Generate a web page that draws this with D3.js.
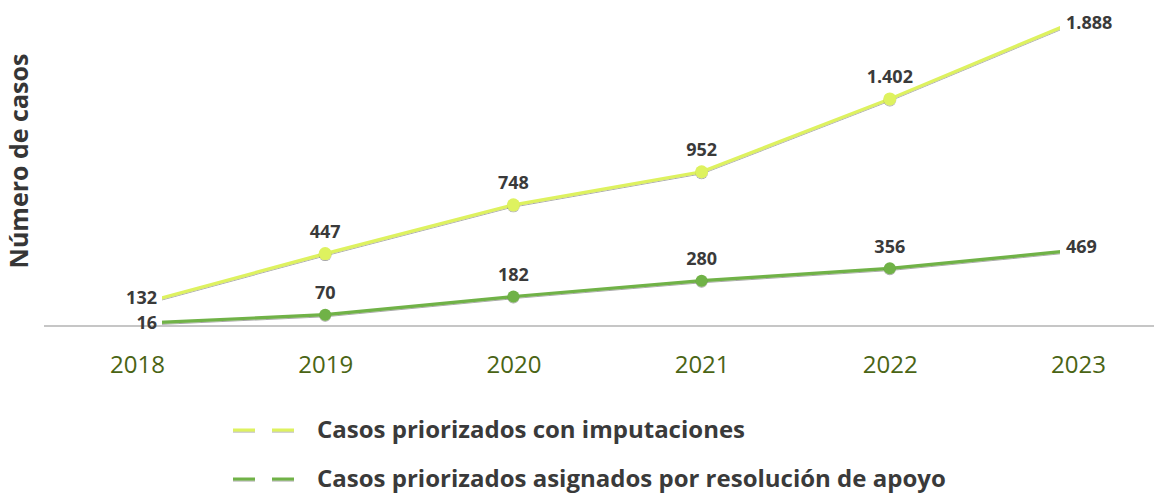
<!DOCTYPE html>
<html lang="es">
<head>
<meta charset="utf-8">
<script src="https://cdn.jsdelivr.net/npm/d3@7"></script>
<style>
  html, body { margin: 0; padding: 0; background: #ffffff; }
  svg { display: block; }
  text { font-family: "Open Sans", Lato, "DejaVu Sans", sans-serif; }
</style>
</head>
<body>
<svg id="chart" width="1154" height="493"></svg>
<script>
// Años y series
const years = ["2018", "2019", "2020", "2021", "2022", "2023"];
const imputaciones = [132, 447, 748, 952, 1402, 1888];
const resolucionApoyo = [16, 70, 182, 280, 356, 469];
const seriesNames = [
  "Casos priorizados con imputaciones",
  "Casos priorizados asignados por resolución de apoyo"
];
const seriesColors = ["#def25e", "#70b246"];
const yAxisTitle = "Número de casos";
const yMax = 2000;

const fmt = v => d3.format(",")(v).replace(/,/g, ".");

const svg = d3.select("#chart");
const W = 1154, H = 493;

const x = d3.scalePoint().domain(years).range([137, 1078]);
const y = d3.scaleLinear().domain([0, yMax]).range([326, 2]);

// Drawn span of the lines (trimmed at the outer years)
const startInset = 25, endInset = 18;
const xStart = x(years[0]) + startInset;
const xEnd = x(years[years.length - 1]) - endInset;

const defs = svg.append("defs");
defs.append("clipPath").attr("id", "lineClip")
  .append("rect")
  .attr("x", xStart).attr("y", 0)
  .attr("width", xEnd - xStart).attr("height", 340);
const shadow = defs.append("filter").attr("id", "soft")
  .attr("filterUnits", "userSpaceOnUse")
  .attr("x", 0).attr("y", 0).attr("width", W).attr("height", H);
shadow.append("feDropShadow")
  .attr("dx", 0).attr("dy", 1).attr("stdDeviation", 0.6)
  .attr("flood-color", "#000").attr("flood-opacity", 0.35);

// Baseline
svg.append("line")
  .attr("x1", 44).attr("x2", W)
  .attr("y1", y(0)).attr("y2", y(0))
  .attr("stroke", "#c6c6c6").attr("stroke-width", 2);

// Category labels
const xAxis = d3.axisBottom(x).tickSize(0).tickPadding(0);
const gx = svg.append("g").attr("transform", `translate(0, ${y(0) + 39})`).call(xAxis);
gx.select(".domain").remove();
gx.selectAll("text")
  .attr("fill", "#4a6414")
  .style("font-family", "'Open Sans', Lato, sans-serif")
  .style("font-size", "24px")
  .attr("dy", "0.35em")
  .attr("y", 0);

// Y-axis title
svg.append("text")
  .attr("transform", `translate(28, ${161}) rotate(-90)`)
  .attr("text-anchor", "middle")
  .attr("fill", "#363636")
  .style("font-size", "25px")
  .style("font-weight", 700)
  .text(yAxisTitle);

const series = [
  { name: seriesNames[0], values: imputaciones, color: seriesColors[0], r: 6.5 },
  { name: seriesNames[1], values: resolucionApoyo, color: seriesColors[1], r: 6 }
];

const line = d3.line()
  .x((d, i) => x(years[i]))
  .y(d => y(d));

// y of a series at horizontal position px (linear between neighbouring years)
function yAt(values, px) {
  const step = x.step();
  const i = Math.min(values.length - 2, Math.max(0, Math.floor((px - x(years[0])) / step)));
  const t = (px - x(years[i])) / step;
  return y(values[i]) + (y(values[i + 1]) - y(values[i])) * t;
}

const labelStyle = sel => sel
  .attr("fill", "#3a3a3a")
  .style("font-size", "18px")
  .style("font-weight", 700);

series.forEach(s => {
  const g = svg.append("g");
  g.append("path")
    .datum(s.values)
    .attr("d", line)
    .attr("fill", "none")
    .attr("stroke", s.color)
    .attr("stroke-width", 3.2)
    .attr("stroke-linejoin", "round")
    .attr("clip-path", "url(#lineClip)")
    .attr("filter", "url(#soft)");

  const inner = s.values.slice(1, -1).map((v, k) => ({ v, year: years[k + 1] }));
  g.selectAll("circle")
    .data(inner)
    .join("circle")
    .attr("cx", d => x(d.year))
    .attr("cy", d => y(d.v))
    .attr("r", s.r)
    .attr("fill", s.color)
    .attr("filter", "url(#soft)");

  // value labels above the inner points
  g.selectAll("text.val")
    .data(inner)
    .join("text")
    .attr("class", "val")
    .attr("x", d => x(d.year))
    .attr("y", d => y(d.v) - 22)
    .attr("dy", "0.35em")
    .attr("text-anchor", "middle")
    .call(labelStyle)
    .text(d => fmt(d.v));

  // first and last value labels beside the line ends
  const first = s.values[0], last = s.values[s.values.length - 1];
  g.append("text")
    .attr("x", xStart - 5)
    .attr("y", yAt(s.values, xStart))
    .attr("dy", "0.35em")
    .attr("text-anchor", "end")
    .call(labelStyle)
    .text(fmt(first));
  g.append("text")
    .attr("x", xEnd + 6)
    .attr("y", yAt(s.values, xEnd) - 5)
    .attr("dy", "0.35em")
    .attr("text-anchor", "start")
    .call(labelStyle)
    .text(fmt(last));
});

// Legend
const legend = svg.append("g");
series.forEach((s, i) => {
  const ly = 430 + i * 49;
  const item = legend.append("g");
  item.append("line")
    .attr("x1", 233).attr("x2", 298)
    .attr("y1", ly).attr("y2", ly)
    .attr("stroke", s.color)
    .attr("stroke-width", 3.2)
    .attr("stroke-dasharray", "22 17")
    .attr("filter", "url(#soft)");
  item.append("text")
    .attr("x", 317).attr("y", ly)
    .attr("dy", "0.35em")
    .attr("fill", "#3a3a3a")
    .style("font-size", "24px")
    .style("font-weight", 700)
    .text(s.name);
});
</script>
</body>
</html>
